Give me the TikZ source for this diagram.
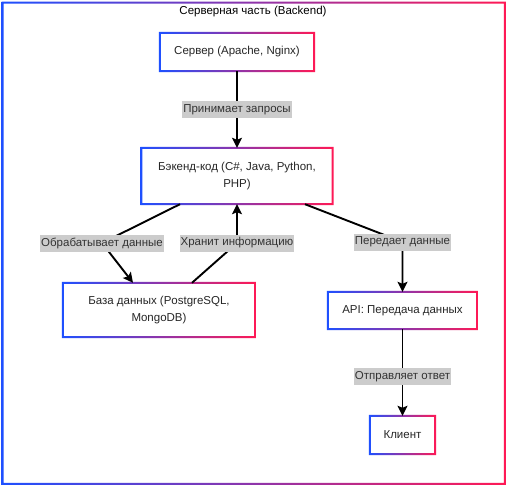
\documentclass[tikz,border=0pt]{standalone}
\usepackage{fontspec}
\setmainfont{Liberation Sans}
\usetikzlibrary{arrows.meta, shadows}
\usepackage{xcolor}

\definecolor{gradblue}{RGB}{30,80,255}
\definecolor{gradred}{RGB}{255,25,85}
\definecolor{labelgray}{RGB}{204,204,204}

% gradient border round a named node
\newcommand{\gradframe}[1]{%
  \shade[left color=gradblue, right color=gradred, even odd rule]
    ([xshift=-1pt, yshift=-1pt]#1.south west) rectangle ([xshift=1pt, yshift=1pt]#1.north east)
    ([xshift=1pt, yshift=1pt]#1.south west) rectangle ([xshift=-1pt, yshift=-1pt]#1.north east);}

\tikzset{
  box/.style={rectangle, fill=white, inner sep=2pt, align=center, text=black!85,
    drop shadow={shadow xshift=0.8pt, shadow yshift=-0.8pt, opacity=0.18}},
  edgelabel/.style={fill=labelgray, inner xsep=1pt, inner ysep=0pt, minimum height=17pt, text=black!80},
  arrow/.style={line width=1.9pt, -{Stealth[length=10pt, width=10pt, inset=2pt]}},
}

\begin{document}
\begin{tikzpicture}[x=1pt, y=-1pt, font=\fontsize{11.5}{17}\selectfont]
        \useasboundingbox (0,0) rectangle (507,487);

        % Outer area
        \node[box, minimum width=502pt, minimum height=481pt] (area) at (253.75,243.25) {};
        \gradframe{area}
        \node[text=black] (title) at (253,12) {Серверная часть (Backend)};

        % Boxes
        \node[box, minimum width=154pt, minimum height=38pt] (server) at (237,52) {Сервер (Apache, Nginx)};
        \gradframe{server}
        \node[box, minimum width=191pt, minimum height=56pt] (backend) at (237,176) {Бэкенд-код (C\#, Java, Python,\\PHP)};
        \gradframe{backend}
        \node[box, minimum width=192pt, minimum height=54pt] (db) at (159,310) {База данных (PostgreSQL,\\MongoDB)};
        \gradframe{db}
        \node[box, minimum width=149pt, minimum height=37pt] (api) at (402.5,310.5) {API: Передача данных};
        \gradframe{api}
        \node[box, minimum width=65pt, minimum height=38pt] (client) at (402.5,435) {Клиент};
        \gradframe{client}

        % Bend points
        \coordinate (bendL) at (102,243);
        \coordinate (bendM) at (237,243);
        \coordinate (bendR) at (402.5,242);

        % Connectors
        \draw[arrow] (server) -- (backend) node[midway, edgelabel] {Принимает запросы};
        \draw[arrow] ([xshift=-57pt]backend.south) -- (bendL) node[edgelabel] {Обрабатывает данные} -- ([xshift=-26pt]db.north);
        \draw[arrow] ([xshift=33pt]db.north) -- (bendM) node[edgelabel] {Хранит информацию} -- (backend.south);
        \draw[arrow] ([xshift=68pt]backend.south) -- (bendR) node[edgelabel] {Передает данные} -- (api.north);
        \draw[arrow] (api) -- (client) node[pos=0.55, edgelabel] {Отправляет ответ};
\end{tikzpicture}
\end{document}
